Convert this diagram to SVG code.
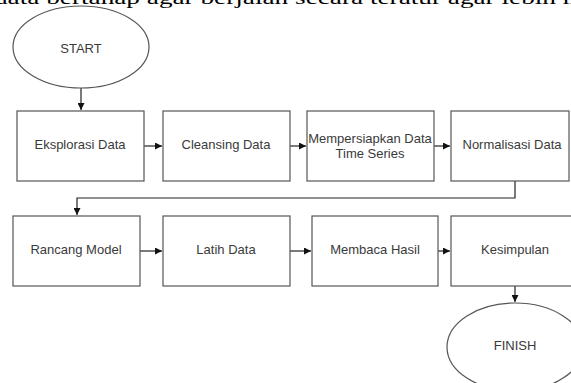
<svg xmlns="http://www.w3.org/2000/svg" width="571" height="383" viewBox="0 0 571 383">
<style>
.box{fill:#fff;stroke:#555;stroke-width:1.2}
.lbl{font-family:"Liberation Sans",Arial,sans-serif;font-size:13px;fill:#3a3a3a;text-anchor:middle;dominant-baseline:middle}
.con{fill:none;stroke:#222;stroke-width:1.2}
.top{font-family:"Liberation Serif","Times New Roman",serif;font-size:18px;fill:#000}
</style>
<defs>
<marker id="ar" viewBox="0 0 10 10" refX="10" refY="5" markerWidth="7" markerHeight="7" markerUnits="userSpaceOnUse" orient="auto">
<path d="M0,0 L10,5 L0,10 z" fill="#111"/>
</marker>
</defs>
<rect width="571" height="383" fill="#fff"/>
<text class="top" x="-6" y="4" textLength="590" lengthAdjust="spacingAndGlyphs">data bertahap agar berjalan secara teratur agar lebih m</text>
<g id="connectors">
<line class="con" x1="81" y1="88" x2="81" y2="110" marker-end="url(#ar)"/>
<line class="con" x1="144" y1="146" x2="162" y2="146" marker-end="url(#ar)"/>
<line class="con" x1="290" y1="146" x2="306" y2="146" marker-end="url(#ar)"/>
<line class="con" x1="434" y1="146" x2="450" y2="146" marker-end="url(#ar)"/>
<polyline class="con" points="515,181 515,198 77,198 77,215" marker-end="url(#ar)"/>
<line class="con" x1="140" y1="251" x2="162" y2="251" marker-end="url(#ar)"/>
<line class="con" x1="290" y1="251" x2="311" y2="251" marker-end="url(#ar)"/>
<line class="con" x1="438" y1="251" x2="450" y2="251" marker-end="url(#ar)"/>
<line class="con" x1="515" y1="286" x2="515" y2="302" marker-end="url(#ar)"/>
</g>
<g id="start"><ellipse class="box" cx="81" cy="47" rx="68" ry="41"/><text class="lbl" x="81" y="50">START</text></g>
<g id="eksplorasi"><rect class="box" x="17" y="111" width="127" height="70"/><text class="lbl" x="80" y="146">Eksplorasi Data</text></g>
<g id="cleansing"><rect class="box" x="163" y="111" width="127" height="70"/><text class="lbl" x="226" y="146">Cleansing Data</text></g>
<g id="mempersiapkan"><rect class="box" x="307" y="111" width="127" height="70"/><text class="lbl" x="370" y="140">Mempersiapkan Data</text><text class="lbl" x="370" y="155">Time Series</text></g>
<g id="normalisasi"><rect class="box" x="451" y="111" width="118" height="70"/><text class="lbl" x="512" y="146">Normalisasi Data</text></g>
<g id="rancang"><rect class="box" x="13" y="216" width="127" height="70"/><text class="lbl" x="76" y="251">Rancang Model</text></g>
<g id="latih"><rect class="box" x="163" y="216" width="127" height="70"/><text class="lbl" x="226" y="251">Latih Data</text></g>
<g id="membaca"><rect class="box" x="312" y="216" width="126" height="70"/><text class="lbl" x="375" y="251">Membaca Hasil</text></g>
<g id="kesimpulan"><rect class="box" x="451" y="216" width="125" height="70"/><text class="lbl" x="515" y="251">Kesimpulan</text></g>
<g id="finish"><ellipse class="box" cx="515" cy="347" rx="68" ry="44"/><text class="lbl" x="515" y="347">FINISH</text></g>
</svg>
